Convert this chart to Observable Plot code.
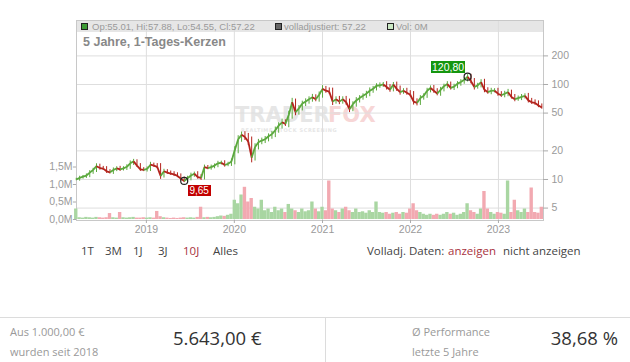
<!DOCTYPE html>
<html><head><meta charset="utf-8">
<script src="https://cdn.jsdelivr.net/npm/d3@7"></script>
<script src="https://cdn.jsdelivr.net/npm/@observablehq/plot@0.6"></script>
<style>
body{margin:0;background:#fff;}
#wrap{position:relative;width:630px;height:362px;overflow:hidden;font-family:"Liberation Sans",Arial,sans-serif;}
.abs{position:absolute;white-space:nowrap;line-height:1;}
#wrap svg{position:absolute;left:0;top:0;}
.os{font-family:"Open Sans",sans-serif;}
</style></head><body><div id="wrap"></div>
<script>
// ---------- data ----------
const startDate = "2018-03-16";      // first candle (bi-weekly samples)
const stepDays = 14;
const closes = [10.0,10.4,10.7,11.0,11.8,12.6,13.8,13.2,13.0,12.2,
 11.9,12.6,13.1,12.8,13.1,13.6,14.8,15.5,14.0,12.8,
 12.6,12.9,14.3,14.0,13.6,10.9,12.2,11.8,11.5,11.3,
 10.9,10.2,9.65,10.3,11.0,11.5,10.6,10.4,13.5,13.2,
 13.5,14.0,14.8,15.0,14.2,14.6,15.5,20.5,26.5,29.5,
 28.0,25.0,17.0,22.0,24.7,25.7,26.5,28.5,30.0,33.0,
 37.0,40.0,38.5,48.0,65.0,51.0,56.0,63.0,66.0,70.0,
 73.5,70.0,78.0,90.0,86.0,84.0,66.0,70.0,66.0,70.0,
 65.0,55.0,62.0,68.0,72.0,76.0,80.0,86.0,90.0,97.0,
 98.0,100.0,94.0,88.0,100.0,90.0,83.0,86.0,82.0,78.0,
 66.0,64.0,72.0,76.0,86.0,92.0,86.0,80.0,88.0,96.0,
 101.0,92.0,95.0,102.0,106.0,112.0,120.8,108.0,94.0,98.0,
 106.0,88.0,83.0,86.0,86.0,80.0,77.0,80.0,83.0,74.0,
 70.0,72.0,74.0,76.0,68.0,65.0,64.0,60.0,57.22];
// candle wick extent beyond the body, in percent
const wicks = [3,4,3,4,5,4,6,5,4,5, 4,5,4,5,4,5,6,5,4,5, 4,5,6,4,5,8,5,4,4,5,
 4,5,4,5,6,4,5,6,5,4, 5,4,5,4,5,4,6,8,9,7, 8,9,12,8,7,6,7,6,7,8,
 7,8,6,9,10,8,7,6,7,6, 7,6,7,8,6,7,9,6,7,6, 7,8,6,7,6,5,6,7,6,5,
 6,5,7,6,5,6,7,5,6,5, 8,7,6,5,6,5,6,5,6,5, 6,5,6,5,6,5,5,6,7,5,
 6,7,5,6,5,6,5,6,7,5, 6,5,6,5,6,5,6,5,4];
const volumes = [0.30,0.05,0.04,0.06,0.05,0.04,0.06,0.05,0.04,0.05,
 0.17,0.05,0.04,0.20,0.05,0.04,0.05,0.06,0.04,0.04,
 0.05,0.04,0.05,0.04,0.23,0.08,0.05,0.04,0.03,0.04,
 0.03,0.04,0.05,0.04,0.05,0.04,0.06,0.35,0.05,0.06,
 0.05,0.06,0.08,0.10,0.09,0.12,0.15,0.55,0.45,0.70,
 0.92,0.50,0.60,0.35,0.30,0.55,0.25,0.30,0.20,0.35,
 0.25,0.30,0.20,0.43,0.30,0.25,0.20,0.30,0.22,0.25,
 0.50,0.30,0.22,0.35,0.25,1.10,0.30,0.25,0.20,0.30,
 0.35,0.25,0.20,0.30,0.20,0.22,0.18,0.25,0.20,0.50,
 0.20,0.18,0.20,0.15,0.18,0.20,0.15,0.20,0.18,0.30,
 0.45,0.25,0.20,0.15,0.12,0.15,0.12,0.15,0.12,0.15,
 0.20,0.15,0.18,0.12,0.15,0.20,0.45,0.25,0.20,0.15,
 0.30,0.80,0.30,0.20,0.15,0.20,0.18,0.15,1.10,0.20,
 0.55,0.25,0.20,0.30,0.20,0.90,0.20,0.18,0.35];
const yearTicks = ["2019-01-01","2020-01-01","2021-01-01","2022-01-01","2023-01-01"];
const priceTicks = [5,10,20,50,100,200];
const volTicks = [0,0.5,1,1.5];
const volTickLabels = ["0,0M","0,5M","1,0M","1,5M"];
const legendTexts = ["Op:55.01, Hi:57.88, Lo:54.55, Cl:57.22","volladjustiert: 57.22","Vol: 0M"];
const chartTitle = "5 Jahre, 1-Tages-Kerzen";
const rangeButtons = ["1T","3M","1J","3J","10J","Alles"];
const activeRange = "10J";
const adjTexts = ["Volladj. Daten:","anzeigen","nicht anzeigen"];
const summaryLeft = ["Aus 1.000,00 €","wurden seit 2018","5.643,00 €"];
const summaryRight = ["Ø Performance","letzte 5 Jahre","38,68 %"];

// ---------- build ----------
const fmtDE = v => v.toFixed(2).replace(".", ",");
const rows = closes.map((c,i)=>{
  const o = i===0 ? c : closes[i-1];
  const w = wicks[i]/100;
  return {date:d3.utcDay.offset(new Date(startDate), i*stepDays), open:o, close:c,
    hi:Math.max(o,c)*(1+w), lo:Math.min(o,c)*(1-w), vol:volumes[i], up:c>=o};
});
const segs = rows.slice(1).map((r,i)=>({x1:rows[i].date,y1:rows[i].close,x2:r.date,y2:r.close,up:r.close>=rows[i].close}));
const low = d3.least(rows, d=>d.close), high = d3.greatest(rows, d=>d.close);
const yearDates = yearTicks.map(s=>new Date(s));

const W=630,H=240,mL=76,mR=87,mT=20,mB=20;
const xDomain=[new Date("2018-03-17"), new Date("2023-07-07")];
const yMin = 3.70, yMax = 471.7;
const GREEN="#5aa83c", RED="#b3221b", VGREEN="#a9d6a2", VRED="#f2a9b1", AX="#9a9a9a";

const wrap = document.getElementById("wrap");
function addDiv(txt, css, cls){const d=document.createElement("div");d.className="abs "+(cls||"");d.textContent=txt;d.style.cssText+=css;wrap.appendChild(d);return d;}

// header band (behind svg)
addDiv("", "left:76px;top:20px;width:467px;height:12px;background:#e6e6e6;");
// watermark
addDiv("TRADER", "left:235px;top:106px;height:19px;font:bold 21px/19px 'DejaVu Sans';color:#e6e6e6;overflow:visible;");
addDiv("FOX", "left:328px;top:106px;height:19px;font:bold 21px/19px 'DejaVu Sans';color:#f7d6d6;overflow:visible;");
addDiv("REALTIME STOCK SCREENING", "left:241px;top:127px;font:bold 5px 'DejaVu Sans';color:#e6e6e6;letter-spacing:0.6px;");

const pricePlot = Plot.plot({
  width:W,height:H,marginLeft:mL,marginRight:mR,marginTop:mT,marginBottom:mB,
  style:{background:"transparent",fontFamily:"Liberation Sans, Arial, sans-serif",fontSize:"10.5px",color:AX},
  x:{type:"utc",domain:xDomain,axis:null},
  y:{type:"log",domain:[yMin,yMax],axis:null},
  marks:[
    Plot.ruleY(priceTicks,{stroke:"#dedede"}),
    Plot.ruleX(yearDates,{stroke:"#dedede"}),
    Plot.frame({stroke:"#c8c8c8"}),
    // right price axis
    Plot.ruleY(priceTicks,{x1:()=>xDomain[1],x2:()=>d3.utcDay.offset(xDomain[1],21),stroke:"#aaa"}),
    Plot.text(priceTicks,{x:()=>xDomain[1],y:d=>d,text:d=>String(d),dx:8,textAnchor:"start",fill:AX}),
    // x axis (years)
    Plot.ruleX(yearDates,{x:d=>d,y1:()=>yMin,y2:()=>yMin*0.93,stroke:"#aaa"}),
    Plot.text(yearDates,{x:d=>d,y:()=>yMin,text:d3.utcFormat("%Y"),dy:9,fill:AX}),
    // candles: wicks and connected bodies
    Plot.ruleX(rows,{x:"date",y1:"lo",y2:"hi",stroke:d=>d.up?GREEN:RED,strokeWidth:1}),
    Plot.link(segs,{x1:"x1",y1:"y1",x2:"x2",y2:"y2",stroke:d=>d.up?GREEN:RED,strokeWidth:1.8}),
    Plot.dot([low,high],{x:"date",y:"close",r:3.5,stroke:"#222",strokeWidth:1.2,fill:"none"})
  ]
});
wrap.appendChild(pricePlot);

const volPlot = Plot.plot({
  width:W,height:H,marginLeft:mL,marginRight:mR,marginTop:20,marginBottom:21,
  style:{background:"transparent",fontFamily:"Liberation Sans, Arial, sans-serif",fontSize:"10.5px",color:AX},
  x:{type:"utc",domain:xDomain,axis:null},
  y:{domain:[0,5.686],axis:null},
  marks:[
    Plot.rectY(rows,{x1:d=>d3.utcDay.offset(d.date,-7),x2:d=>d3.utcDay.offset(d.date,7),y:"vol",fill:d=>d.up?VGREEN:VRED}),
    Plot.ruleY(volTicks,{x1:()=>xDomain[0],x2:()=>d3.utcDay.offset(xDomain[0],-13),stroke:"#aaa"}),
    Plot.text(volTicks,{x:()=>xDomain[0],y:d=>d,text:d=>volTickLabels[volTicks.indexOf(d)],dx:-4,textAnchor:"end",fill:AX})
  ]
});
wrap.appendChild(volPlot);

// legend in header band
const sq = (x,fill)=>addDiv("", `left:${x}px;top:23px;width:5px;height:5px;background:${fill};border:1px solid #222;`);
sq(81,"#3d9b35"); addDiv(legendTexts[0], "left:92px;top:22px;font-size:9.5px;color:#9a9a9a;");
sq(275,"#666"); addDiv(legendTexts[1], "left:284px;top:22px;font-size:9.5px;color:#9a9a9a;");
sq(387,"#cbe8c4"); addDiv(legendTexts[2], "left:396px;top:22px;font-size:9.5px;color:#9a9a9a;");
addDiv(chartTitle, "left:83px;top:36px;font-weight:bold;font-size:12.5px;color:#888;");

// value labels positioned with the plot's scales
const sx = pricePlot.scale("x"), sy = pricePlot.scale("y");
const lx = sx.apply(low.date), ly = sy.apply(low.close);
addDiv(fmtDE(low.close), `left:${lx+4}px;top:${ly+5}px;width:23px;height:11px;line-height:11px;text-align:center;background:#c20000;color:#fff;font-size:10px;`);
const hx = sx.apply(high.date), hy = sy.apply(high.close);
addDiv(fmtDE(high.close), `left:${hx-36}px;top:${hy-15}px;width:34px;height:12px;line-height:12px;text-align:center;background:#15960f;color:#fff;font-size:10.5px;`);

// range buttons row
const btnX = [81,105,133,158,183,213];
rangeButtons.forEach((t,i)=>addDiv(t, `left:${btnX[i]}px;top:245px;font-size:11.5px;color:${t===activeRange?"#a8323e":"#444"};`, "os"));
addDiv(adjTexts[0], "left:367px;top:245px;font-size:11.5px;color:#444;", "os");
addDiv(adjTexts[1], "left:448px;top:245px;font-size:11.5px;color:#a8323e;", "os");
addDiv(adjTexts[2], "left:503px;top:245px;font-size:11.5px;color:#444;", "os");

// summary panel
addDiv("", "left:0;top:317px;width:630px;height:1px;background:#dcdcdc;");
addDiv("", "left:325px;top:317px;width:1px;height:45px;background:#dcdcdc;");
addDiv(summaryLeft[0], "left:10px;top:326px;font-size:11px;color:#999;", "os");
addDiv(summaryLeft[1], "left:10px;top:346px;font-size:11px;color:#999;", "os");
addDiv(summaryLeft[2], "left:173px;top:329px;font-size:18.5px;color:#333;", "os");
addDiv(summaryRight[0], "left:412px;top:326px;font-size:11px;color:#999;", "os");
addDiv(summaryRight[1], "left:412px;top:346px;font-size:11px;color:#999;", "os");
addDiv(summaryRight[2], "right:12px;top:329px;font-size:18.5px;color:#333;", "os");
</script></body></html>
